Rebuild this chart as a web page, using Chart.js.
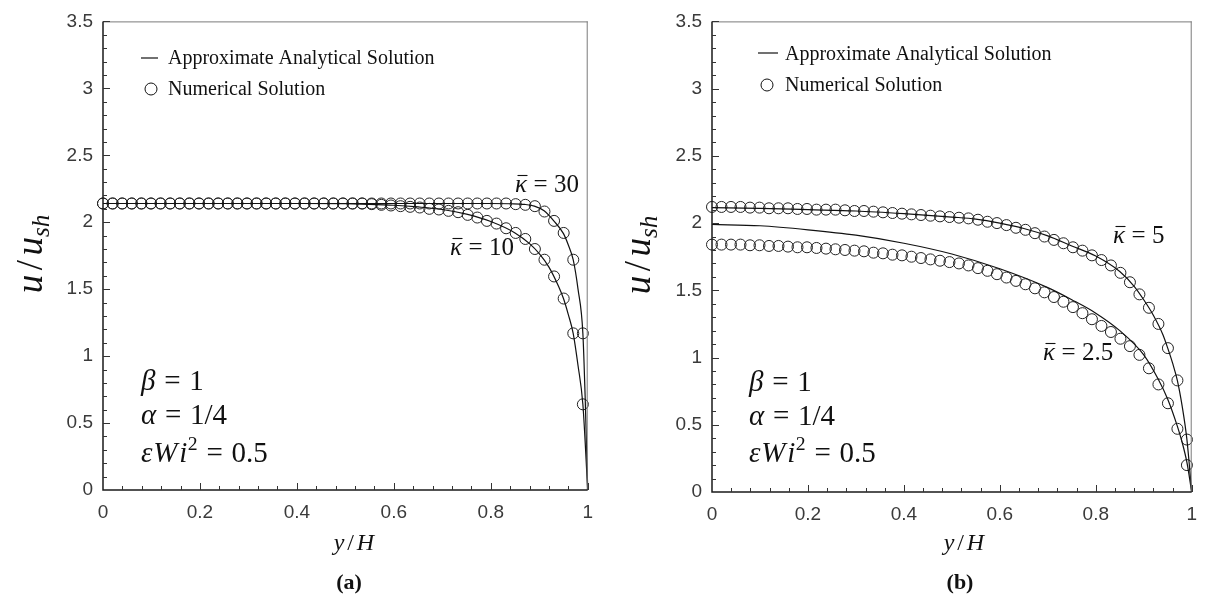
<!DOCTYPE html>
<html><head><meta charset="utf-8">
<script src="https://cdn.jsdelivr.net/npm/chart.js@4.4.0/dist/chart.umd.min.js"></script>
<style>
html,body{margin:0;padding:0;background:#fff;width:1208px;height:598px;overflow:hidden}
canvas{position:absolute;top:0}
#ca{left:0}
#cb{left:604px}
</style></head><body>
<canvas id="ca" width="604" height="598"></canvas>
<canvas id="cb" width="604" height="598"></canvas>
<script>
// ---------- DATA ----------
const xTickVals = [0, 0.2, 0.4, 0.6, 0.8, 1];
const xTickLabels = ['0', '0.2', '0.4', '0.6', '0.8', '1'];
const yTickVals = [0, 0.5, 1, 1.5, 2, 2.5, 3, 3.5];
const yTickLabels = ['0', '0.5', '1', '1.5', '2', '2.5', '3', '3.5'];

// numerical-solution sample positions (y/H), read from the circles
const numX = [0,0.0198,0.0396,0.0594,0.0792,0.099,0.1188,0.1386,0.1584,0.1782,
  0.198,0.2178,0.2376,0.2574,0.2772,0.297,0.3168,0.3366,0.3564,0.3762,
  0.396,0.4158,0.4356,0.4554,0.4752,0.495,0.5148,0.5346,0.5544,0.5742,
  0.594,0.6138,0.6336,0.6534,0.6732,0.693,0.7128,0.7326,0.7524,0.7722,
  0.792,0.8118,0.8316,0.8514,0.8712,0.891,0.9108,0.9306,0.9504,0.9702,0.99];

// panel (a): kappa = 30 and 10
const numA30 = [2.14,2.14,2.14,2.14,2.14,2.14,2.14,2.14,2.14,2.14,
  2.14,2.14,2.14,2.14,2.14,2.14,2.14,2.14,2.14,2.14,
  2.14,2.14,2.14,2.14,2.14,2.14,2.14,2.14,2.14,2.14,
  2.14,2.14,2.14,2.14,2.14,2.14,2.14,2.14,2.14,2.14,
  2.14,2.14,2.14,2.135,2.13,2.12,2.08,2.01,1.92,1.72,1.17];
const numA10 = [2.14,2.14,2.14,2.14,2.14,2.14,2.14,2.14,2.14,2.14,
  2.14,2.14,2.14,2.14,2.14,2.14,2.14,2.14,2.14,2.14,
  2.14,2.14,2.14,2.14,2.14,2.14,2.14,2.14,2.135,2.13,
  2.125,2.12,2.115,2.11,2.10,2.095,2.085,2.075,2.055,2.035,
  2.01,1.99,1.955,1.92,1.875,1.80,1.72,1.595,1.43,1.17,0.64];
const anaA30X = [0,0.2,0.4,0.6,0.7,0.8,0.84,0.87,0.89,0.91,0.93,0.95,0.96,0.97,0.98,0.99,0.995,1];
const anaA30  = [2.14,2.14,2.14,2.14,2.14,2.14,2.138,2.133,2.12,2.085,2.01,1.915,1.83,1.72,1.50,1.17,0.66,0];
const anaA10X = [0,0.2,0.4,0.5,0.55,0.6,0.65,0.7,0.75,0.8,0.85,0.88,0.9,0.92,0.94,0.95,0.96,0.97,0.98,0.99,1];
const anaA10  = [2.14,2.14,2.14,2.138,2.134,2.127,2.114,2.095,2.06,2.005,1.92,1.84,1.765,1.665,1.52,1.43,1.31,1.17,0.93,0.64,0];

// panel (b): kappa = 5 and 2.5
const numB5 = [2.12,2.12,2.12,2.12,2.115,2.115,2.11,2.11,2.11,2.105,
  2.105,2.10,2.10,2.10,2.095,2.09,2.09,2.085,2.08,2.075,
  2.07,2.065,2.06,2.055,2.05,2.045,2.04,2.035,2.025,2.01,
  2.0,1.985,1.965,1.95,1.925,1.90,1.875,1.85,1.82,1.795,
  1.76,1.725,1.685,1.63,1.56,1.47,1.37,1.25,1.07,0.83,0.39];
const numB25 = [1.84,1.84,1.84,1.84,1.835,1.835,1.83,1.83,1.825,1.82,
  1.82,1.815,1.81,1.805,1.80,1.795,1.79,1.78,1.775,1.765,
  1.76,1.75,1.74,1.73,1.72,1.71,1.70,1.685,1.665,1.645,
  1.62,1.595,1.57,1.545,1.515,1.485,1.45,1.415,1.375,1.33,
  1.285,1.235,1.19,1.14,1.085,1.02,0.92,0.80,0.66,0.47,0.20];
const anaB5X = [0,0.1,0.2,0.3,0.4,0.5,0.55,0.6,0.65,0.7,0.75,0.8,0.85,0.88,0.9,0.92,0.94,0.95,0.96,0.97,0.98,0.99,1];
const anaB5  = [2.115,2.11,2.10,2.09,2.07,2.045,2.03,2.0,1.96,1.905,1.83,1.755,1.64,1.53,1.43,1.315,1.17,1.07,0.96,0.83,0.64,0.39,0];
const anaB25X = [0,0.1,0.2,0.3,0.4,0.5,0.6,0.7,0.75,0.8,0.85,0.9,0.93,0.95,0.97,0.98,0.99,1];
const anaB25  = [1.99,1.98,1.95,1.91,1.85,1.77,1.66,1.52,1.43,1.33,1.20,1.02,0.84,0.69,0.49,0.37,0.22,0];

// ---------- helpers ----------
const SERIF = '"Liberation Serif", "Times New Roman", serif';
const SANS = '"Liberation Sans", Arial, sans-serif';
const toXY = (xs, ys) => xs.map((x, i) => ({x, y: ys[i]}));

function fontFor(s, size) {
  if (s === 'i') return `italic ${size}px ${SERIF}`;
  if (s === 'b') return `bold ${size}px ${SERIF}`;
  return `${size}px ${SERIF}`;
}
function rich(ctx, x, y, parts, size, align) {
  const info = parts.map(p => {
    const sz = (p.m === 'sup' || p.m === 'sub') ? size * 0.68 : size;
    ctx.font = fontFor(p.s, sz);
    const w = ctx.measureText(p.t).width;
    return {sz, w, pre: (p.pre || 0) * size, post: (p.post || 0) * size};
  });
  const total = info.reduce((a, b) => a + b.w + b.pre + b.post, 0);
  let cx = align === 'center' ? x - total / 2 : align === 'right' ? x - total : x;
  ctx.textAlign = 'left';
  ctx.textBaseline = 'alphabetic';
  parts.forEach((p, i) => {
    const f = info[i];
    cx += f.pre;
    let dy = 0;
    if (p.m === 'sup') dy = -size * 0.40;
    if (p.m === 'sub') dy = size * 0.20;
    ctx.font = fontFor(p.s, f.sz);
    ctx.fillText(p.t, cx, y + dy);
    if (p.m === 'bar') {
      const by = y - size * 0.66;
      ctx.beginPath();
      ctx.moveTo(cx + size * 0.1, by);
      ctx.lineTo(cx + f.w + size * 0.02, by);
      ctx.lineWidth = Math.max(1, size * 0.045);
      ctx.stroke();
    }
    cx += f.w + f.post;
  });
  return total;
}
const EQ = {t: '=', pre: 0.3, post: 0.3};

function makeDecor(cfg) {
  return {
    id: 'decor',
    afterDraw(chart) {
      const {ctx, chartArea: ca, scales: {x, y}} = chart;
      ctx.save();
      // frame: top/right thin grey, left/bottom dark
      ctx.strokeStyle = '#7a7a7a'; ctx.lineWidth = 1;
      ctx.beginPath();
      ctx.moveTo(ca.left, ca.top + 0.5); ctx.lineTo(ca.right, ca.top + 0.5);
      ctx.moveTo(ca.right - 0.5, ca.top); ctx.lineTo(ca.right - 0.5, ca.bottom);
      ctx.stroke();
      ctx.strokeStyle = '#1a1a1a'; ctx.lineWidth = 1.5;
      ctx.beginPath();
      ctx.moveTo(ca.left, ca.top); ctx.lineTo(ca.left, ca.bottom); ctx.lineTo(ca.right, ca.bottom);
      ctx.stroke();
      // inward tick marks (major + minor)
      ctx.strokeStyle = '#333'; ctx.lineWidth = 1;
      ctx.beginPath();
      for (let k = 1; k <= 25; k++) {
        const px = Math.round(x.getPixelForValue(k * 0.04)) + 0.5;
        const len = k % 5 === 0 ? 7 : 4;
        ctx.moveTo(px, ca.bottom); ctx.lineTo(px, ca.bottom - len);
      }
      for (let k = 1; k <= 35; k++) {
        const py = Math.round(y.getPixelForValue(k * 0.1)) + 0.5;
        const len = k % 5 === 0 ? 7 : 4;
        ctx.moveTo(ca.left, py); ctx.lineTo(ca.left + len, py);
      }
      ctx.stroke();

      ctx.fillStyle = '#111'; ctx.strokeStyle = '#111';
      // legend
      const L = cfg.legend;
      ctx.lineWidth = 1.2;
      ctx.beginPath(); ctx.moveTo(L.lx1, L.ly); ctx.lineTo(L.lx2, L.ly); ctx.stroke();
      ctx.beginPath(); ctx.arc(L.cx, L.cy, 6, 0, Math.PI * 2); ctx.lineWidth = 1; ctx.stroke();
      rich(ctx, L.tx, L.tb1, [{t: 'Approximate Analytical Solution'}], 20, 'left');
      rich(ctx, L.tx, L.tb2, [{t: 'Numerical Solution'}], 20, 'left');
      // parameter notes
      const N = cfg.notes;
      rich(ctx, N.x, N.b[0], [{t: 'β', s: 'i'}, EQ, {t: '1'}], 29, 'left');
      rich(ctx, N.x, N.b[1], [{t: 'α', s: 'i'}, EQ, {t: '1/4'}], 29, 'left');
      rich(ctx, N.x, N.b[2], [{t: 'ε', s: 'i', post: 0.03}, {t: 'W', s: 'i', post: 0.06}, {t: 'i', s: 'i', post: 0.02}, {t: '2', m: 'sup'}, EQ, {t: '0.5'}], 29, 'left');
      // kappa labels
      cfg.kappa.forEach(k => {
        rich(ctx, k.x, k.b, [{t: 'κ', s: 'i', m: 'bar'}, {t: '=', pre: 0.26, post: 0.26}, {t: k.v}], 25, 'left');
      });
      // axis titles
      rich(ctx, cfg.xt.cx, cfg.xt.b, [{t: 'y', s: 'i'}, {t: '/', pre: 0.12, post: 0.12}, {t: 'H', s: 'i'}], 24, 'center');
      ctx.save();
      ctx.translate(cfg.yt.bx, cfg.yt.cy);
      ctx.rotate(-Math.PI / 2);
      rich(ctx, 0, 0, [{t: 'u', s: 'i'}, {t: '/', pre: 0.12, post: 0.12}, {t: 'u', s: 'i'}, {t: 'sh', s: 'i', m: 'sub'}], 37, 'center');
      ctx.restore();
      // panel label
      rich(ctx, cfg.pl.cx, cfg.pl.b, [{t: cfg.pl.t, s: 'b'}], 22, 'center');
      ctx.restore();
    }
  };
}

function lineDS(xs, ys) {
  return {data: toXY(xs, ys), showLine: true, pointRadius: 0, borderColor: '#111', borderWidth: 1.2,
    cubicInterpolationMode: 'monotone', clip: false, fill: false};
}
function circDS(xs, ys) {
  return {data: toXY(xs, ys), showLine: false, pointRadius: 5.5, pointStyle: 'circle',
    pointBackgroundColor: 'rgba(0,0,0,0)', pointBorderColor: '#222', pointBorderWidth: 1, clip: false};
}

function makeChart(id, datasets, cfg) {
  return new Chart(document.getElementById(id), {
    type: 'scatter',
    data: {datasets},
    options: {
      responsive: false, animation: false, devicePixelRatio: 1,
      layout: {padding: {left: 0, top: 17, right: cfg.padR, bottom: 0}},
      plugins: {legend: {display: false}, tooltip: {enabled: false}},
      scales: {
        x: {type: 'linear', min: 0, max: 1,
          afterBuildTicks: s => { s.ticks = xTickVals.map(v => ({value: v})); },
          afterFit: s => { s.height = cfg.xH; },
          grid: {display: false, drawTicks: false}, border: {display: false},
          ticks: {autoSkip: false, maxRotation: 0, padding: 11, color: '#3a3a3a',
            font: {family: SANS, size: 19}, callback: (v, i) => xTickLabels[i]}},
        y: {type: 'linear', min: 0, max: 3.5,
          afterBuildTicks: s => { s.ticks = yTickVals.map(v => ({value: v})); },
          afterFit: s => { s.width = cfg.yW; },
          grid: {display: false, drawTicks: false}, border: {display: false},
          ticks: {autoSkip: false, padding: 10, color: '#3a3a3a',
            font: {family: SANS, size: 19}, callback: (v, i) => yTickLabels[i]}}
      }
    },
    plugins: [makeDecor(cfg)]
  });
}

makeChart('ca', [
  lineDS(anaA30X, anaA30), lineDS(anaA10X, anaA10),
  circDS(numX, numA30), circDS(numX, numA10)
], {
  padR: 14, xH: 108, yW: 103,
  legend: {lx1: 141, lx2: 158, ly: 58, tx: 168, tb1: 64, cx: 151, cy: 89, tb2: 95},
  notes: {x: 141, b: [390, 424, 462]},
  kappa: [{x: 515, b: 192, v: '30'}, {x: 450, b: 255, v: '10'}],
  xt: {cx: 354, b: 550}, yt: {bx: 42, cy: 254}, pl: {t: '(a)', cx: 349, b: 589}
});

makeChart('cb', [
  lineDS(anaB5X, anaB5), lineDS(anaB25X, anaB25),
  circDS(numX, numB5), circDS(numX, numB25)
], {
  padR: 9, xH: 106, yW: 108,
  legend: {lx1: 154, lx2: 174, ly: 53, tx: 181, tb1: 60, cx: 163, cy: 85, tb2: 91},
  notes: {x: 145, b: [391, 425, 462]},
  kappa: [{x: 509, b: 243, v: '5'}, {x: 439, b: 360, v: '2.5'}],
  xt: {cx: 360, b: 550}, yt: {bx: 46, cy: 255}, pl: {t: '(b)', cx: 356, b: 589}
});
</script>
</body></html>
